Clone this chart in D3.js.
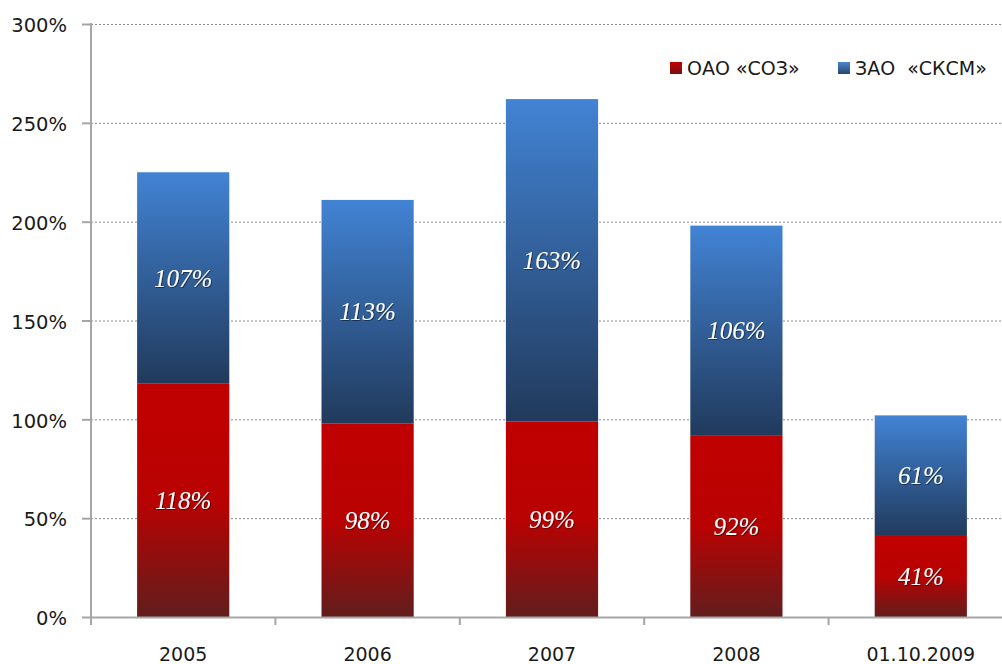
<!DOCTYPE html>
<html><head><meta charset="utf-8">
<script src="https://cdn.jsdelivr.net/npm/d3@7"></script>
<style>body{margin:0;background:#fff}svg{display:block}</style>
</head><body>
<svg id="c" width="1002" height="664"></svg>
<script>
const categories = ["2005","2006","2007","2008","01.10.2009"];
const soz = [118, 98, 99, 92, 41];
const sksm = [107, 113, 163, 106, 61];
const seriesNames = ["ОАО «СОЗ»", "ЗАО  «СКСМ»"];
const yTicks = [0, 50, 100, 150, 200, 250, 300];

(function(){
const svg = d3.select("#c");
const mLeft = 91, mTop = 24, mBottom = 617, mRight = 1013;
const x = d3.scaleBand().domain(categories).range([mLeft, mRight]).paddingInner(0.5).paddingOuter(0.25);
const y = d3.scaleLinear().domain([0, 300]).range([mBottom, mTop]);

const defs = svg.append("defs");
const gr = defs.append("linearGradient").attr("id","gRed").attr("x1",0).attr("y1",0).attr("x2",0).attr("y2",1);
gr.append("stop").attr("offset","0%").attr("stop-color","#c00000");
gr.append("stop").attr("offset","50%").attr("stop-color","#b90202");
gr.append("stop").attr("offset","100%").attr("stop-color","#621d1d");
const gb = defs.append("linearGradient").attr("id","gBlue").attr("x1",0).attr("y1",0).attr("x2",0).attr("y2",1);
gb.append("stop").attr("offset","0%").attr("stop-color","#4283d4");
gb.append("stop").attr("offset","100%").attr("stop-color","#213a5c");
const glr = defs.append("linearGradient").attr("id","lRed").attr("x1",0).attr("y1",0).attr("x2",0).attr("y2",1);
glr.append("stop").attr("offset","0%").attr("stop-color","#c00000");
glr.append("stop").attr("offset","100%").attr("stop-color","#7a1010");
const glb = defs.append("linearGradient").attr("id","lBlue").attr("x1",0).attr("y1",0).attr("x2",0).attr("y2",1);
glb.append("stop").attr("offset","0%").attr("stop-color","#4a86d0");
glb.append("stop").attr("offset","100%").attr("stop-color","#26466e");
const flt = defs.append("filter").attr("id","sh").attr("x","-20%").attr("y","-20%").attr("width","140%").attr("height","140%");
flt.append("feDropShadow").attr("dx",0.8).attr("dy",0.8).attr("stdDeviation",0.6).attr("flood-color","#000").attr("flood-opacity",0.6);

// gridlines
svg.append("g").selectAll("line").data(yTicks.filter(d => d > 0)).join("line")
  .attr("x1", mLeft).attr("x2", 1002).attr("y1", d => y(d)+0.5).attr("y2", d => y(d)+0.5)
  .attr("stroke", "#8a8a8a").attr("stroke-width", 1).attr("stroke-dasharray", "2,2");

// bars
const data = categories.map((c,i) => ({c, a: soz[i], b: sksm[i]}));
const g = svg.append("g");
g.selectAll("rect.r").data(data).join("rect").attr("class","r")
  .attr("x", d => x(d.c)).attr("width", x.bandwidth())
  .attr("y", d => y(d.a)).attr("height", d => y(0) - y(d.a))
  .attr("fill", "url(#gRed)");
g.selectAll("rect.b").data(data).join("rect").attr("class","b")
  .attr("x", d => x(d.c)).attr("width", x.bandwidth())
  .attr("y", d => y(d.a + d.b)).attr("height", d => y(d.a) - y(d.a + d.b))
  .attr("fill", "url(#gBlue)");

// labels
const lf = "'Liberation Serif', 'DejaVu Serif', serif";
const lab = svg.append("g").attr("font-family", lf).attr("font-style","italic").attr("font-size", 25)
  .attr("fill","#fff").attr("text-anchor","middle").attr("filter","url(#sh)");
lab.selectAll("text.a").data(data).join("text").attr("class","a")
  .attr("x", d => x(d.c) + x.bandwidth()/2).attr("y", d => (y(d.a)+y(0))/2).attr("dy","0.35em")
  .text(d => d.a + "%");
lab.selectAll("text.b").data(data).join("text").attr("class","b")
  .attr("x", d => x(d.c) + x.bandwidth()/2).attr("y", d => (y(d.a)+y(d.a+d.b))/2).attr("dy","0.35em")
  .text(d => d.b + "%");

// axes
const af = "'DejaVu Sans', Verdana, sans-serif";
const ya = svg.append("g").attr("transform", `translate(${mLeft},0)`)
  .call(d3.axisLeft(y).tickValues(yTicks).tickFormat(d => d + "%").tickSize(9).tickPadding(15));
ya.select(".domain").remove();
ya.selectAll("line").attr("stroke","#a6a6a6").attr("stroke-width",2);
ya.selectAll("text").attr("font-family", af).attr("font-size", 19.5).attr("fill","#1a1a1a").attr("dy","0.4em");
svg.append("line").attr("x1", mLeft).attr("x2", mLeft).attr("y1", mTop - 1).attr("y2", mBottom + 8)
  .attr("stroke","#a6a6a6").attr("stroke-width",2);

const xa = svg.append("g").attr("transform", `translate(0,${mBottom})`)
  .call(d3.axisBottom(x).tickSize(0).tickPadding(31));
xa.select(".domain").attr("stroke","#a6a6a6").attr("stroke-width",2);
xa.selectAll("text").attr("font-family", af).attr("font-size", 19).attr("fill","#1a1a1a");
const step = x.step();
svg.append("g").selectAll("line").data(categories.slice(1)).join("line")
  .attr("x1", d => x(d) - step*0.25).attr("x2", d => x(d) - step*0.25)
  .attr("y1", mBottom).attr("y2", mBottom + 8).attr("stroke","#a6a6a6").attr("stroke-width",2);

// legend
const leg = svg.append("g").attr("font-family", af).attr("font-size", 19).attr("fill","#1a1a1a");
const legX = [670, 838];
const legFill = ["url(#lRed)","url(#lBlue)"];
seriesNames.forEach((n,i) => {
  leg.append("rect").attr("x", legX[i]).attr("y", 62).attr("width", 12).attr("height", 12).attr("fill", legFill[i]);
  leg.append("text").attr("x", legX[i] + 17).attr("y", 68).attr("dy","0.36em").attr("xml:space","preserve").style("white-space","pre").text(n);
});
})();
</script>
</body></html>
